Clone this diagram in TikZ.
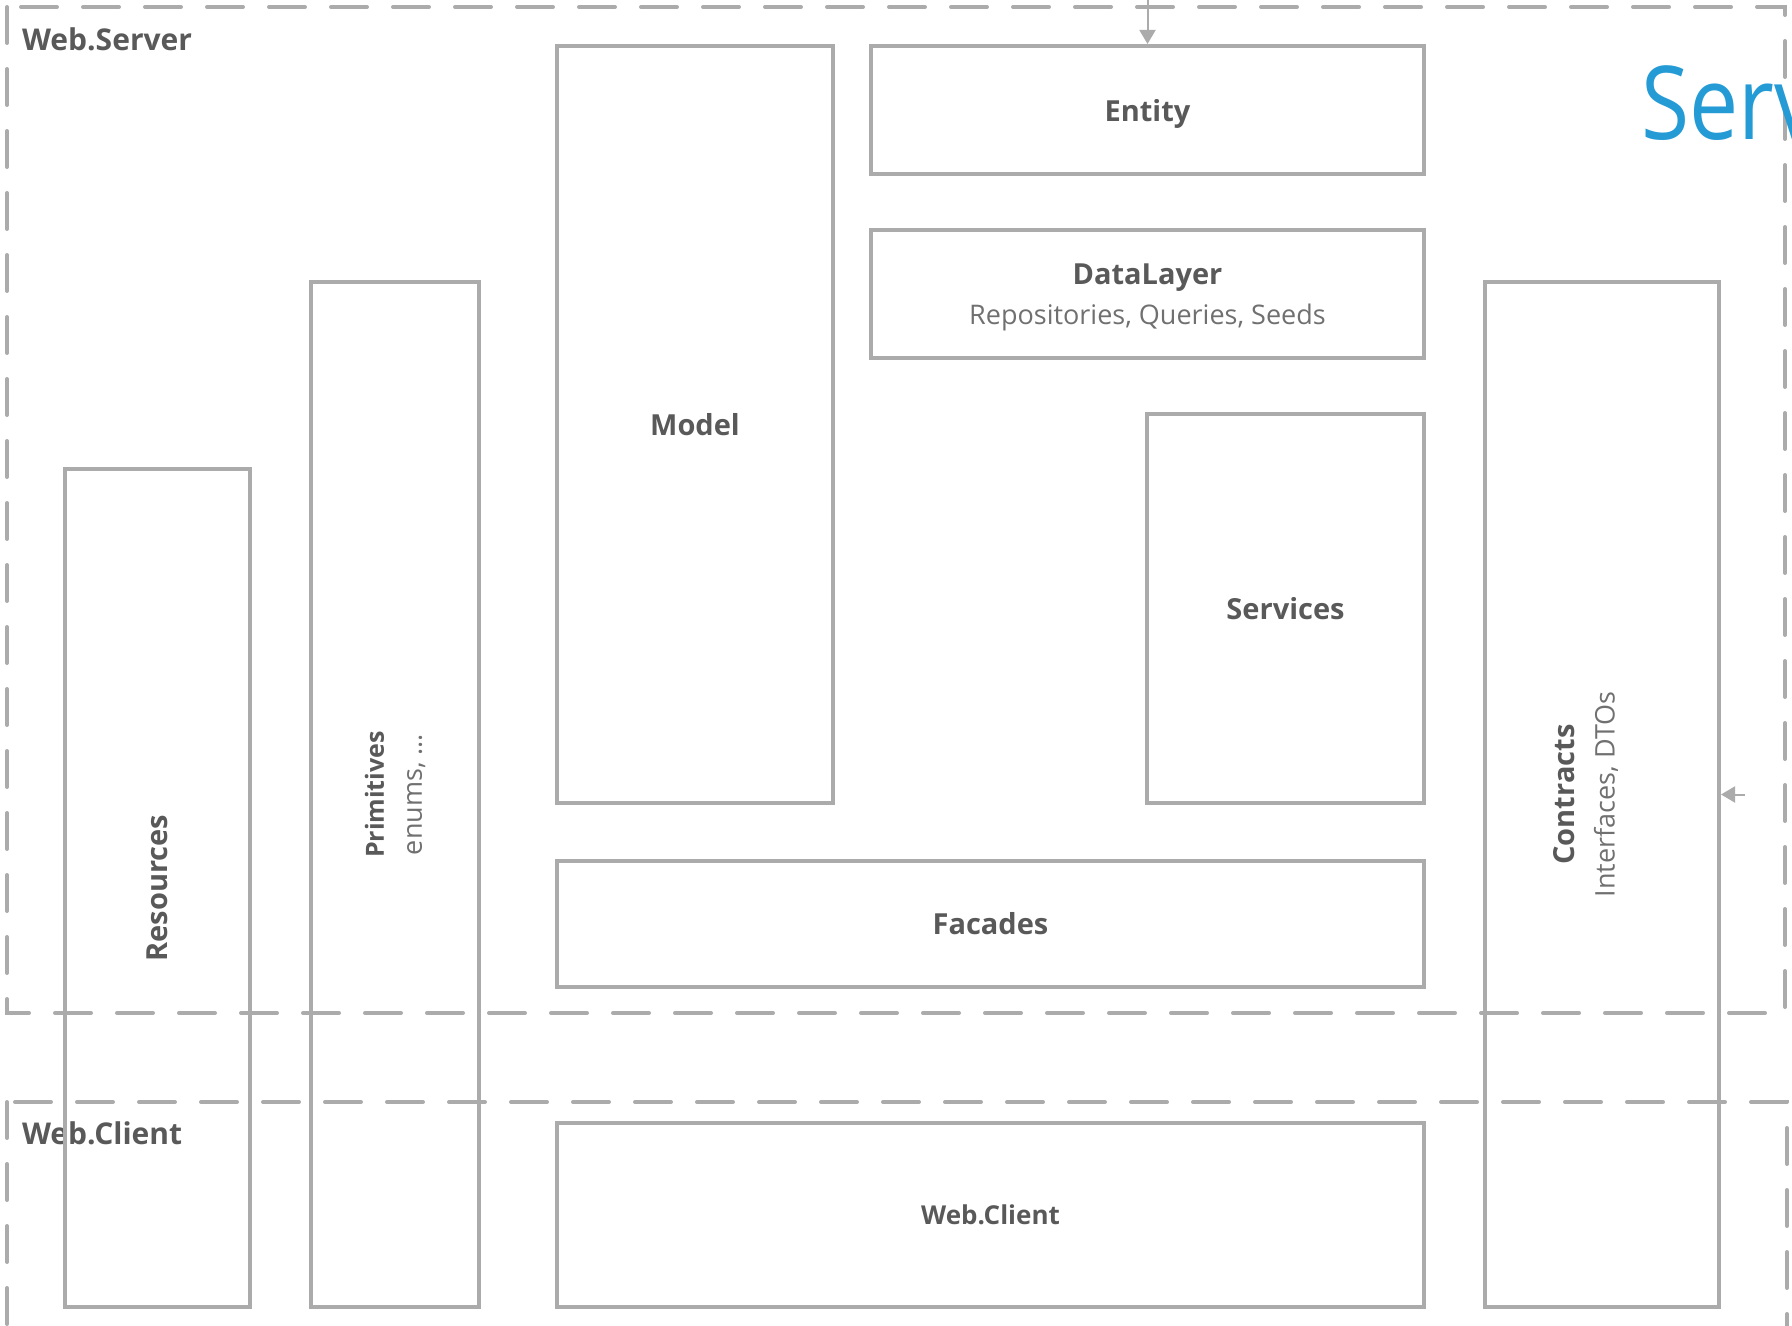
\documentclass[tikz,border=0pt]{standalone}
\usepackage{fontspec}
\setmainfont{Open Sans}
\newfontfamily\serfont[FakeStretch=0.86]{Open Sans}
\usetikzlibrary{arrows.meta}
\definecolor{boxgray}{HTML}{ABABAB}
\definecolor{txtgray}{HTML}{595959}
\definecolor{subgray}{HTML}{707070}
\definecolor{serblue}{HTML}{259BD6}
\newcommand{\subtxt}[1]{{\fontsize{13.5}{19}\selectfont\mdseries\color{subgray}#1}}

\begin{document}
\begin{tikzpicture}[x=.5pt,y=-.5pt,
  layer/.style={draw=boxgray, line width=2pt, inner sep=0pt, align=center,
    text=txtgray, font=\fontsize{14.5}{20}\selectfont\bfseries},
  frame/.style={draw=boxgray, line width=2pt, dash pattern=on 18pt off 13pt, line cap=round},
  framelbl/.style={anchor=west, text=txtgray, font=\fontsize{15}{18}\selectfont\bfseries},
  flow/.style={draw=boxgray, line width=1pt, -{Triangle[length=7pt,width=8pt]}}]
\clip (0,0) rectangle (1792,1326);
% dashed frames
\draw[frame] (7,7) rectangle (1785,1013);
\draw[frame] (7,1102) rectangle (1787,1328);
\node[framelbl] (server-lbl) at (15,39) {Web.Server};
\node[framelbl] (client-lbl) at (15,1133) {Web.Client};
\node[anchor=base west, text=serblue, font=\serfont\fontsize{51}{60}\selectfont] (server-title) at (1634,140) {Server};
% server side
\node[layer, minimum width=276.5pt, minimum height=64pt, text depth=0pt] (entity) at (1147.5,110) {Entity};
\node[layer, minimum width=276.5pt, minimum height=64pt, text depth=0pt] (datalayer) at (1147.5,294)
  {DataLayer\\ \subtxt{Repositories, Queries, Seeds}};
\node[layer, minimum width=138pt, minimum height=378.5pt] (model) at (695,424.5) {Model};
\node[layer, minimum width=138.5pt, minimum height=194.5pt] (services) at (1285.5,608.5) {Services};
\node[layer, minimum width=433.5pt, minimum height=63pt] (facades) at (990.5,924) {Facades};
% client side
\node[layer, minimum width=433.5pt, minimum height=92pt,
  font=\fontsize{13}{16}\selectfont\bfseries] (webclient) at (990.5,1215) {Web.Client};
% shared, vertical (rotated: south is the right side)
\node[layer, rotate=90, minimum width=419pt, minimum height=92.5pt] (resources) at (157.5,888) {Resources};
\node[layer, rotate=90, minimum width=512.5pt, minimum height=84pt,
  font=\fontsize{12.5}{19}\selectfont\bfseries] (primitives) at (395,794.5)
  {Primitives\\ \subtxt{enums, …}};
\node[layer, rotate=90, minimum width=512.5pt, minimum height=117pt, text depth=18pt] (contracts) at (1602,794.5)
  {Contracts\\ \subtxt{Interfaces, DTOs}};
% incoming connectors
\coordinate (entity-in) at (1147.5,-4);
\coordinate (contracts-in) at (1745,794.5);
\draw[flow] (entity-in) -- (entity.north);
\draw[flow] (contracts-in) -- (contracts.south);
\end{tikzpicture}
\end{document}
